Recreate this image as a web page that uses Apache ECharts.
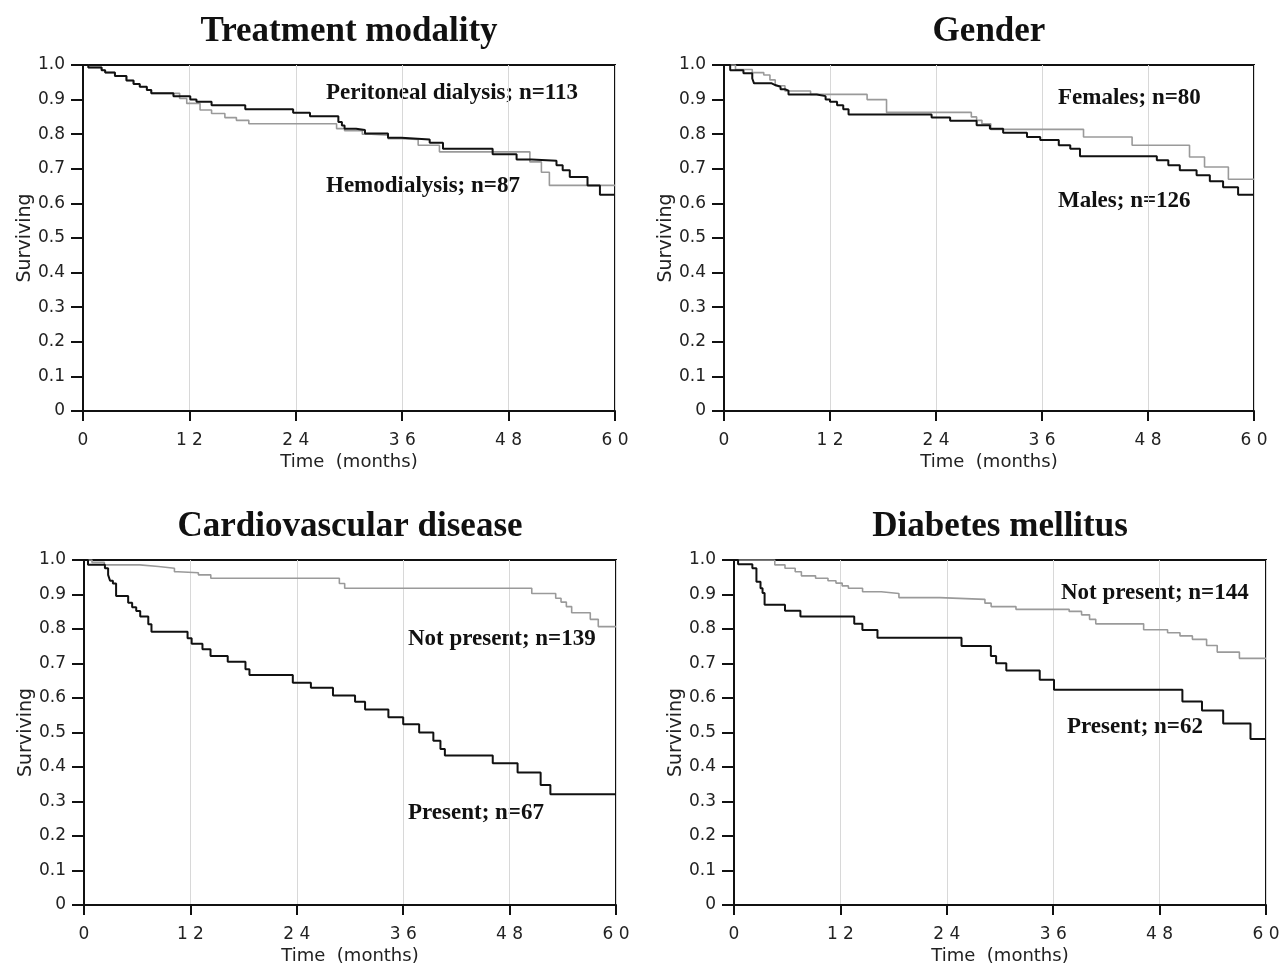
<!DOCTYPE html>
<html>
<head>
<meta charset="utf-8">
<title>Survival by treatment, gender, CVD and diabetes</title>
<script src="https://cdn.jsdelivr.net/npm/echarts@6/dist/echarts.min.js"></script>
<style>
  html, body { margin: 0; padding: 0; background: #ffffff; }
  #chart { width: 1283px; height: 968px; }
</style>
</head>
<body>
<div id="chart"></div>
<script>
// Treatment modality
var pdTime = [0, 0.6, 2.1, 2.5, 3.6, 4.9, 5.7, 6.4, 7.2, 7.7, 10.2, 12.1, 12.8, 14.5, 18.3, 23.7, 25.6, 28.8, 29.2, 29.5, 30.8, 31.8, 34.4, 35.9, 39.1, 40.6, 46.2, 48.9, 50.6, 53.4, 54.1, 54.9, 56.9, 58.3, 60];
var pdSurv = [1, 0.993, 0.985, 0.978, 0.968, 0.955, 0.945, 0.937, 0.928, 0.918, 0.91, 0.90, 0.894, 0.884, 0.872, 0.862, 0.852, 0.835, 0.825, 0.816, 0.812, 0.802, 0.79, 0.785, 0.775, 0.758, 0.742, 0.727, 0.723, 0.71, 0.696, 0.676, 0.652, 0.625, 0.625];
var hdTime = [0, 0.6, 2.1, 2.5, 3.6, 4.9, 5.7, 6.4, 7.2, 7.7, 10.9, 11.7, 13.2, 14.5, 16.0, 17.3, 18.7, 28.6, 29.5, 31.5, 32.5, 34.4, 35.9, 37.8, 40.2, 50.4, 51.7, 52.6, 60];
var hdSurv = [1, 0.993, 0.985, 0.978, 0.968, 0.955, 0.945, 0.937, 0.928, 0.918, 0.903, 0.889, 0.87, 0.86, 0.848, 0.84, 0.83, 0.816, 0.81, 0.80, 0.797, 0.787, 0.785, 0.768, 0.749, 0.72, 0.69, 0.652, 0.652];

// Gender
var maleTime = [0, 0.7, 2.2, 3.2, 3.4, 5.4, 5.8, 6.4, 6.9, 7.3, 10.5, 11.5, 12, 12.8, 13.5, 14.1, 23.5, 25.6, 28.6, 30.1, 31.6, 34.3, 35.8, 37.9, 39.2, 40.3, 49, 50.3, 51.6, 53.5, 55, 56.5, 58.2, 60];
var maleSurv = [1, 0.985, 0.976, 0.961, 0.947, 0.942, 0.937, 0.93, 0.926, 0.915, 0.91, 0.90, 0.894, 0.884, 0.872, 0.857, 0.848, 0.839, 0.826, 0.816, 0.804, 0.792, 0.783, 0.768, 0.758, 0.736, 0.725, 0.71, 0.696, 0.681, 0.664, 0.647, 0.625, 0.625];
var femTime = [0, 1.3, 3.2, 4.5, 5.2, 5.8, 6.9, 9.8, 16.2, 18.4, 28.0, 28.6, 29.2, 30.2, 40.7, 46.2, 52.7, 54.4, 57.1, 60];
var femSurv = [1, 0.987, 0.978, 0.971, 0.957, 0.94, 0.925, 0.915, 0.90, 0.863, 0.85, 0.84, 0.83, 0.814, 0.792, 0.768, 0.734, 0.705, 0.67, 0.67];

// Cardiovascular disease
var cvdYesTime = [0, 0.45, 2.36, 2.72, 2.94, 3.26, 3.62, 4.98, 5.43, 5.89, 6.34, 7.25, 7.61, 11.68, 12.14, 13.36, 14.27, 16.21, 18.21, 18.66, 23.55, 25.59, 28.08, 30.57, 31.7, 34.33, 36, 37.8, 39.4, 40.2, 40.7, 46.1, 48.9, 51.5, 52.6, 60];
var cvdYesSurv = [1, 0.986, 0.976, 0.957, 0.94, 0.932, 0.896, 0.876, 0.863, 0.852, 0.836, 0.814, 0.792, 0.773, 0.757, 0.741, 0.722, 0.705, 0.683, 0.667, 0.644, 0.63, 0.607, 0.589, 0.567, 0.544, 0.524, 0.5, 0.476, 0.452, 0.433, 0.411, 0.384, 0.348, 0.321, 0.321];
var cvdNoTime = [0, 0.9, 2.3, 6.3, 8.4, 10.2, 10.6, 12.9, 14.3, 28.8, 29.4, 50.5, 53.2, 53.8, 54.4, 55.0, 57.1, 58.0, 60];
var cvdNoSurv = [1, 0.993, 0.986, 0.981, 0.976, 0.966, 0.963, 0.957, 0.947, 0.932, 0.918, 0.903, 0.889, 0.878, 0.865, 0.847, 0.828, 0.807, 0.807];

// Diabetes mellitus
var dmYesTime = [0, 0.46, 2.07, 2.53, 2.99, 3.22, 3.45, 5.75, 7.49, 13.56, 14.48, 16.18, 25.66, 28.97, 29.56, 30.71, 34.48, 36.09, 50.57, 52.78, 55.17, 58.25, 60];
var dmYesSurv = [1, 0.988, 0.976, 0.937, 0.918, 0.904, 0.87, 0.853, 0.836, 0.815, 0.797, 0.775, 0.751, 0.722, 0.701, 0.68, 0.653, 0.624, 0.59, 0.564, 0.526, 0.481, 0.481];
var dmNoTime = [0, 4.6, 5.75, 6.9, 7.6, 9.2, 10.6, 11.5, 12.2, 12.9, 14.5, 16.6, 18.6, 23.2, 28.3, 29.0, 31.8, 37.8, 39.2, 40.1, 40.8, 46.2, 48.9, 50.3, 51.7, 53.3, 54.5, 57, 60];
var dmNoSurv = [1, 0.986, 0.976, 0.966, 0.954, 0.947, 0.94, 0.933, 0.925, 0.918, 0.908, 0.903, 0.891, 0.886, 0.875, 0.865, 0.857, 0.851, 0.841, 0.828, 0.815, 0.798, 0.789, 0.78, 0.77, 0.752, 0.733, 0.715, 0.715];

var titles = ['Treatment modality', 'Gender', 'Cardiovascular disease', 'Diabetes mellitus'];

var BLACK = '#111111';
var GRAY = '#9a9a9a';
var SANS = '"DejaVu Sans", "Liberation Sans", sans-serif';
var SERIF = '"Liberation Serif", "Times New Roman", serif';

var panels = [
  { grid: { left: 83, top: 65, width: 532, height: 346 },
    gray: [hdTime, hdSurv, 'Hemodialysis; n=87'], black: [pdTime, pdSurv, 'Peritoneal dialysis; n=113'],
    grayLabel: [326, 186], blackLabel: [326, 93] },
  { grid: { left: 724, top: 65, width: 530, height: 346 },
    gray: [femTime, femSurv, 'Females; n=80'], black: [maleTime, maleSurv, 'Males; n=126'],
    grayLabel: [1058, 98], blackLabel: [1058, 201] },
  { grid: { left: 84, top: 560, width: 532, height: 345 },
    gray: [cvdNoTime, cvdNoSurv, 'Not present; n=139'], black: [cvdYesTime, cvdYesSurv, 'Present; n=67'],
    grayLabel: [408, 639], blackLabel: [408, 813] },
  { grid: { left: 734, top: 560, width: 532, height: 345 },
    gray: [dmNoTime, dmNoSurv, 'Not present; n=144'], black: [dmYesTime, dmYesSurv, 'Present; n=62'],
    grayLabel: [1061, 593], blackLabel: [1067, 727] }
];

function zip(t, s) {
  return t.map(function (v, i) { return [v, s[i]]; });
}

var axisLineStyle = { color: BLACK, width: 2 };

var option = {
  backgroundColor: '#ffffff',
  animation: false,
  grid: [], xAxis: [], yAxis: [], series: [], graphic: []
};

panels.forEach(function (p, i) {
  option.grid.push(Object.assign({ show: true, borderColor: BLACK, borderWidth: 2, backgroundColor: 'transparent' }, p.grid));
  option.xAxis.push({
    gridIndex: i, type: 'value', min: 0, max: 60, interval: 12,
    name: 'Time  (months)', nameLocation: 'middle', nameGap: 42,
    nameTextStyle: { fontFamily: SANS, fontSize: 18, color: '#222' },
    axisLine: { show: true, lineStyle: axisLineStyle },
    axisTick: { show: true, inside: false, length: 10, lineStyle: axisLineStyle },
    axisLabel: { margin: 21, fontFamily: SANS, fontSize: 17, color: '#222',
      formatter: function (v) { return String(v).split('').join(' '); } },
    splitLine: { show: true, lineStyle: { color: '#d8d8d8', width: 1 } }
  });
  option.yAxis.push({
    gridIndex: i, type: 'value', min: 0, max: 1, interval: 0.1,
    name: 'Surviving', nameLocation: 'middle', nameGap: 48, nameRotate: 90,
    nameTextStyle: { fontFamily: SANS, fontSize: 19, color: '#222' },
    axisLine: { show: true, lineStyle: axisLineStyle },
    axisTick: { show: true, inside: false, length: 12, lineStyle: axisLineStyle },
    axisLabel: { margin: 18, fontFamily: SANS, fontSize: 17, color: '#222',
      formatter: function (v) { return v < 0.001 ? '0' : v.toFixed(1); } },
    splitLine: { show: false }
  });
  option.series.push({
    name: p.gray[2], type: 'line', step: 'end', xAxisIndex: i, yAxisIndex: i,
    symbol: 'none', silent: true, data: zip(p.gray[0], p.gray[1]),
    lineStyle: { color: GRAY, width: 1.6 }
  });
  option.series.push({
    name: p.black[2], type: 'line', step: 'end', xAxisIndex: i, yAxisIndex: i,
    symbol: 'none', silent: true, data: zip(p.black[0], p.black[1]),
    lineStyle: { color: BLACK, width: 2 }
  });
  option.graphic.push({
    type: 'text', x: p.grid.left + p.grid.width / 2, y: p.grid.top - 33,
    style: { text: titles[i], font: 'bold 35px ' + SERIF, fill: '#111', align: 'center', verticalAlign: 'middle' }
  });
  option.graphic.push({
    type: 'text', x: p.blackLabel[0], y: p.blackLabel[1],
    style: { text: p.black[2], font: 'bold 23px ' + SERIF, fill: '#111', align: 'left', verticalAlign: 'middle' }
  });
  option.graphic.push({
    type: 'text', x: p.grayLabel[0], y: p.grayLabel[1],
    style: { text: p.gray[2], font: 'bold 23px ' + SERIF, fill: '#111', align: 'left', verticalAlign: 'middle' }
  });
});

var chart = echarts.init(document.getElementById('chart'));
chart.setOption(option);
</script>
</body>
</html>
